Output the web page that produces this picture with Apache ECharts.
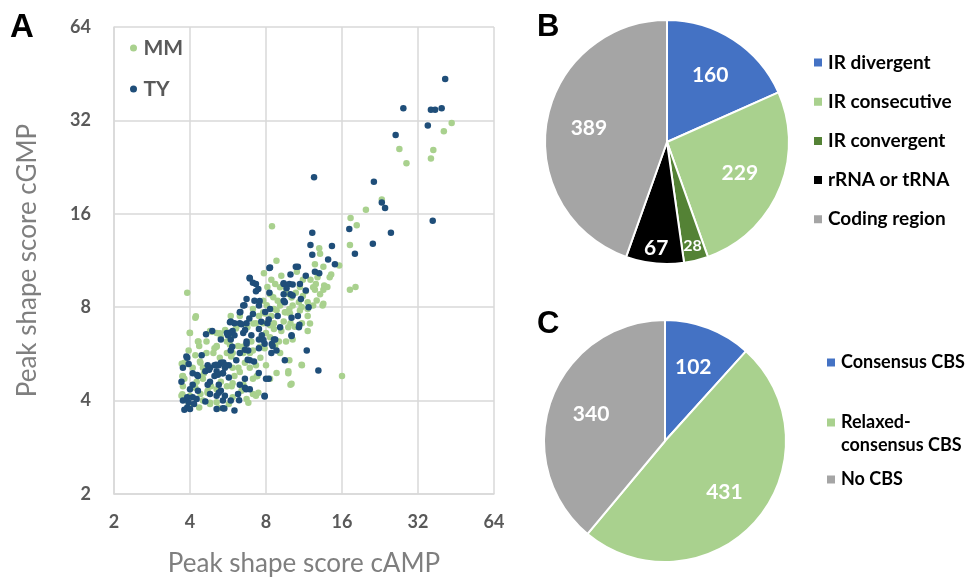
<!DOCTYPE html>
<html><head><meta charset="utf-8">
<script src="https://cdn.jsdelivr.net/npm/echarts@6/dist/echarts.min.js"></script>
<style>html,body{margin:0;padding:0;background:#fff}#c{width:968px;height:582px}</style>
</head><body><div id="c"></div>
<script>
// ---------- Panel A data: [cAMP score, cGMP score] ----------
const mmPoints = [[43.5,31.4],[40.5,29.5],[27,25.9],[36.8,25.7],[36,24.1],[28.8,23.3],[23,17.8],[19.9,16.5],[17.3,15.5],[18.3,14.7],[8.45,14.6],[17.2,12.7],[13,12.4],[13.1,11.9],[15.6,10.9],[8.8,11.3],[12.5,11],[13.5,10.8],[14.5,10.2],[17.2,9.1],[18.1,9.3],[13.5,9.1],[13.6,9.4],[13.1,8.8],[13.4,8.1],[12.6,9.5],[12,9.8],[11.2,9.8],[10.6,10.4],[9.2,10.1],[7.85,10.3],[8.4,9.8],[8.7,9.5],[8.1,9.3],[9.6,9.0],[10.5,8.9],[10.1,8.6],[11.2,8.7],[11.7,8.3],[11.7,7.9],[12.3,8.1],[9.1,8.1],[8.6,7.9],[7.1,7.9],[7.8,7.7],[8.4,7.5],[9.5,7.7],[9.9,7.9],[10.9,7.8],[11.7,7.5],[10,7.1],[9.2,6.7],[8.6,6.8],[8.3,6.4],[7.3,7.1],[6.75,6.9],[6.3,7.5],[5.8,7.5],[4.2,7.4],[3.9,8.9],[4.0,6.6],[4.3,6.2],[4.35,6.0],[4.65,6.2],[4.8,6.7],[5.1,6.6],[5.3,6.4],[5.6,6.2],[5.1,6.0],[4.95,5.7],[5.25,5.5],[5.6,5.7],[5.9,5.7],[6.2,6.0],[6.5,5.7],[6.7,6.1],[7.0,6.2],[7.1,5.8],[7.3,5.2],[6.9,5.1],[8.0,5.2],[7.4,4.8],[7.1,4.7],[8.3,4.7],[9.8,4.9],[9.9,5.4],[11.1,5.2],[10,4.5],[16,4.8],[9.1,5.7],[9.0,6.2],[9.6,6.2],[10.2,6.3],[11.7,6.7],[11.1,7.1],[7.9,5.9],[5.9,5.1],[6.3,4.95],[5.9,4.55],[5.6,4.45],[5.1,4.35],[4.7,4.3],[4.4,4.2],[4.0,4.15],[3.7,4.15],[3.75,4.45],[3.8,4.7],[3.75,4.8],[3.9,5.25],[3.8,5.3],[3.95,5.8],[4.2,5.6],[4.4,5.3],[4.5,4.7],[4.85,4.45],[5.1,3.95],[4.8,3.9],[4.35,3.8],[3.95,3.8],[5.7,3.9],[6.7,4.05],[7.1,4.2],[7.3,4.15],[6.4,4.3],[5.2,3.78],[4.25,4.6],[5.9,4.1],[4.5,5.1],[4.1,5.1],[4.65,5.7],[5.9,6.5],[6.1,6.9],[7.8,7.1],[7.5,7.5],[9.4,7.2],[8.6,7.1],[8.0,6.6],[9.6,7.7],[10.2,8.1],[10.8,8.3],[8.9,8.4],[7.8,8.4],[8.3,8.8],[9.4,9.5],[10.9,9.3],[11.5,9.0],[12.5,9.1],[12.8,10.0],[14.0,9.3],[4.5,4.0],[5.3,4.6],[6.0,4.8],[4.2,4.4],[6.6,5.3],[7.6,5.5],[5.0,5.9],[8.7,6.0],[9.8,6.9],
  [3.71,5.26],[3.73,4.79],[3.73,4.19],[3.95,3.94],[3.99,6.62],[4.22,7.48],[4.32,6.2],[4.38,5.35],[4.54,4.89],[4.69,4.24],[4.8,3.94],[4.89,6.67],[5.1,5.97],[5.26,6.59],[5.51,6.75],[5.76,6.05],[5.82,5.55],[6.08,6.83],[6.22,5.1],[6.47,5.97],[6.51,4.51],[6.91,5.69],[7.13,7.09],[7.35,4.79],[7.57,5.97],[7.93,7.63],[8.05,8.11],[8.3,7.0],[8.55,8.62],[8.81,7.82],[9.09,9.28],[9.37,8.31],[9.81,8.83],[9.96,7.63],[10.4,6.92],[11.07,8.01],[11.95,7.09],[12.3,9.28],[12.7,8.41],[13.5,8.21],[14.3,9.99],[6.81,3.94],[5.85,4.45],[7.46,4.24],[8.81,4.91],[9.81,4.97],[11.07,5.22],[10.1,4.53]];
const tyPoints = [[41,43.5],[28,35],[36,34.6],[37.4,34.6],[39.7,35],[35,30.8],[26.1,28.7],[12.4,21],[21.4,20.3],[23,17.4],[23.7,16.7],[36.6,15.2],[17.1,14.3],[25,13.9],[12.2,13.9],[21.2,12.8],[12,12.7],[14.6,12.6],[18,11.9],[12.2,11.8],[14.1,11.4],[15,11],[10.5,10.8],[10.7,10.8],[8.25,10.7],[12.5,10.4],[13,10.3],[11.5,10.1],[10,10.2],[6.9,9.9],[7.1,9.6],[7.3,9.5],[9.4,9.5],[9.9,9.5],[10.9,9.5],[9.65,9.2],[7.3,9.0],[8.25,8.9],[9.4,8.8],[10,8.8],[11,8.5],[6.7,8.5],[7.2,8.4],[9.4,8.4],[9.5,8.3],[7.5,8.1],[11.8,8],[6.5,8.1],[6.3,7.7],[7.1,7.6],[8.3,7.9],[8.9,7.5],[10.7,7.5],[10.1,7.4],[5.76,7.15],[6.0,7.1],[6.3,7.1],[6.7,7.1],[8.1,7.1],[9.1,6.9],[10.8,6.9],[7.5,6.8],[5.9,6.7],[6.5,6.6],[7.0,6.5],[4.63,6.55],[4.9,6.7],[5.65,6.5],[7.7,6.5],[10.1,6.5],[8.6,6.3],[5.8,6.3],[7.5,6.3],[6.7,6.2],[5.3,6.3],[7.9,6.1],[7.5,5.9],[8.5,6.0],[8.8,5.8],[8.4,5.7],[5.8,5.8],[6.8,5.8],[6.3,5.7],[11.6,5.8],[9.5,5.4],[4.45,5.6],[3.9,5.5],[6.1,5.4],[6.9,5.4],[5.7,5.2],[5.2,5.2],[5.3,5.3],[5.0,5.2],[4.7,5.2],[3.75,5.1],[3.95,5.25],[4.8,5.1],[5.5,5.1],[12.9,5.0],[5.1,4.97],[4.6,4.97],[4.1,4.9],[4.3,4.8],[5.0,4.8],[5.4,4.9],[5.7,4.75],[6.6,4.7],[8.2,4.7],[8.0,4.7],[3.7,4.6],[4.8,4.6],[5.2,4.5],[4.7,4.5],[4.1,4.5],[6.3,4.5],[4.0,4.35],[4.3,4.3],[6.6,4.4],[6.9,4.35],[5.3,4.3],[6.2,4.2],[4.8,4.2],[5.1,4.15],[5.5,4.15],[7.9,4.15],[3.9,4.1],[4.1,4.1],[4.25,4.05],[3.75,4.0],[5.4,4.0],[5.8,4.0],[3.95,3.95],[4.15,3.9],[4.6,3.97],[3.9,3.8],[3.8,3.74],[4.0,3.76],[5.1,3.76],[5.4,3.78],[6.0,3.72],
  [3.87,5.55],[4.27,4.84],[4.76,5.03],[5.07,5.22],[5.42,5.31],[5.55,5.2],[5.16,4.85],[5.4,4.9],[5.2,4.24],[5.47,3.77],[5.76,6.62],[6.0,6.5],[5.88,5.97],[6.33,7.72],[6.57,8.11],[6.61,6.75],[6.6,5.83],[6.77,5.42],[7.17,5.35],[7.49,4.91],[7.9,4.12],[6.67,4.35],[6.26,4.01],[6.89,9.96],[7.46,9.16],[8.3,10.75],[9.4,9.56],[10.2,9.46],[10.2,8.73],[11.5,9.06],[10.85,7.02],[10.1,6.46],[8.43,6.09],[8.7,6.3],[7.81,6.27],[7.55,8.37],[7.94,7.72],[8.2,7.3],[7.66,7.18],[6.87,7.35],[6.4,7.05],[5.8,7.2],[5.6,6.6],[6.7,6.1]];
const scatterNames = ['MM', 'TY'];
const scatterColors = ['#A9D18E', '#1F4E79'];

// ---------- Panel B data ----------
const bNames = ['IR divergent', 'IR consecutive', 'IR convergent', 'rRNA or tRNA', 'Coding region'];
const bValues = [160, 229, 28, 67, 389];
const bColors = ['#4472C4', '#A9D18E', '#548235', '#000000', '#A5A5A5'];

// ---------- Panel C data ----------
const cNames = ['Consensus CBS', 'Relaxed-\nconsensus CBS', 'No CBS'];
const cValues = [102, 431, 340];
const cColors = ['#4472C4', '#A9D18E', '#A5A5A5'];

const FONT = 'Lato';
const chart = echarts.init(document.getElementById('c'), null, {renderer: 'canvas'});

function pieData(names, values) {
  return names.map((n, i) => ({name: n, value: values[i]}));
}
function labelRing(names, values, center, r0, r, small) {
  const total = values.reduce((a, b) => a + b, 0);
  return {
    type: 'pie', center: center, radius: [r0, r], silent: true, startAngle: 90,
    avoidLabelOverlap: false, animation: false,
    itemStyle: {color: 'rgba(0,0,0,0)', borderWidth: 0},
    emphasis: {disabled: true},
    labelLine: {show: false},
    data: names.map((n, i) => {
      const share = values[i] / total;
      const isSmall = share < 0.1;
      return {
        name: n, value: values[i],
        label: {show: small ? isSmall : !isSmall, fontSize: share < 0.05 ? 16 : 21}
      };
    }),
    label: {position: 'inside', formatter: '{c}', color: '#fff', fontWeight: 'bold', fontFamily: FONT}
  };
}

const B_CENTER = [667, 142], B_R = 122;
const C_CENTER = [665, 441], C_R = 121;
const legendTextB = {fontSize: 19, fontWeight: 'bold', color: '#000', fontFamily: FONT, lineHeight: 23};
const legendTextC = {fontSize: 18, fontWeight: 'bold', color: '#000', fontFamily: FONT, lineHeight: 23};

const option = {
  animation: false,
  title: [
    {text: 'A', left: 10, top: 11, padding: 0, textStyle: {fontSize: 33, fontWeight: 'bold', color: '#000', fontFamily: 'Liberation Sans'}},
    {text: 'B', left: 537, top: 12, padding: 0, textStyle: {fontSize: 31, fontWeight: 'bold', color: '#000', fontFamily: 'Liberation Sans'}},
    {text: 'C', left: 537, top: 309, padding: 0, textStyle: {fontSize: 31, fontWeight: 'bold', color: '#000', fontFamily: 'Liberation Sans'}}
  ],
  grid: {left: 114, top: 27, width: 380, height: 472, containLabel: false},
  xAxis: {
    type: 'log', logBase: 2, min: 2, max: 64,
    name: 'Peak shape score cAMP', nameLocation: 'middle', nameGap: 57,
    nameTextStyle: {fontSize: 26, color: '#7f7f7f', fontFamily: FONT},
    axisLine: {show: true, lineStyle: {color: '#d9d9d9', width: 1.5}},
    axisTick: {show: false},
    axisLabel: {fontSize: 18, fontWeight: 'bold', color: '#595959', fontFamily: FONT, margin: 19},
    splitLine: {show: true, lineStyle: {color: '#d9d9d9', width: 1.5}}
  },
  yAxis: {
    type: 'log', logBase: 2, min: 2, max: 64,
    name: 'Peak shape score cGMP', nameLocation: 'middle', nameGap: 73,
    nameTextStyle: {fontSize: 26, color: '#7f7f7f', fontFamily: FONT},
    axisLine: {show: true, lineStyle: {color: '#d9d9d9', width: 1.5}},
    axisTick: {show: false},
    axisLabel: {fontSize: 18, fontWeight: 'bold', color: '#595959', fontFamily: FONT, margin: 23},
    splitLine: {show: true, lineStyle: {color: '#d9d9d9', width: 1.5}}
  },
  legend: [
    {data: scatterNames, orient: 'vertical', left: 130, top: 36, padding: 0, icon: 'circle', itemWidth: 10, itemHeight: 7, itemGap: 17,
      textStyle: {fontSize: 21, fontWeight: 'bold', color: '#595959', fontFamily: FONT, lineHeight: 24}},
    {data: bNames, orient: 'vertical', left: 812, top: 51, padding: 0, icon: 'rect', itemWidth: 10, itemHeight: 10, itemGap: 16.2,
      textStyle: legendTextB},
    {data: [cNames[0]], orient: 'vertical', left: 825, top: 351, padding: 0, icon: 'rect', itemWidth: 10, itemHeight: 10,
      textStyle: legendTextC},
    {data: [cNames[1]], orient: 'vertical', left: 825, top: 388, padding: 0, icon: 'rect', itemWidth: 10, itemHeight: 10,
      formatter: n => '\n' + n, textStyle: legendTextC},
    {data: [cNames[2]], orient: 'vertical', left: 825, top: 468, padding: 0, icon: 'rect', itemWidth: 10, itemHeight: 10,
      textStyle: legendTextC}
  ],
  series: [
    {type: 'scatter', name: scatterNames[0], data: mmPoints, symbolSize: 6.5, itemStyle: {color: scatterColors[0], opacity: 1}},
    {type: 'scatter', name: scatterNames[1], data: tyPoints, symbolSize: 6.5, itemStyle: {color: scatterColors[1], opacity: 1}},
    {type: 'pie', center: B_CENTER, radius: [0, B_R], startAngle: 90, data: pieData(bNames, bValues),
      color: bColors, label: {show: false}, labelLine: {show: false},
      itemStyle: {borderColor: '#fff', borderWidth: 2}, emphasis: {scale: false}},
    {type: 'pie', center: C_CENTER, radius: [0, C_R], startAngle: 90, data: pieData(cNames, cValues),
      color: cColors, label: {show: false}, labelLine: {show: false},
      itemStyle: {borderColor: '#fff', borderWidth: 2}, emphasis: {scale: false}},
    labelRing(bNames, bValues, B_CENTER, B_R * 0.25, B_R, false),
    labelRing(bNames, bValues, B_CENTER, B_R * 0.7, B_R, true),
    labelRing(cNames, cValues, C_CENTER, C_R * 0.25, C_R, false)
  ]
};
chart.setOption(option);
</script>
</body></html>
